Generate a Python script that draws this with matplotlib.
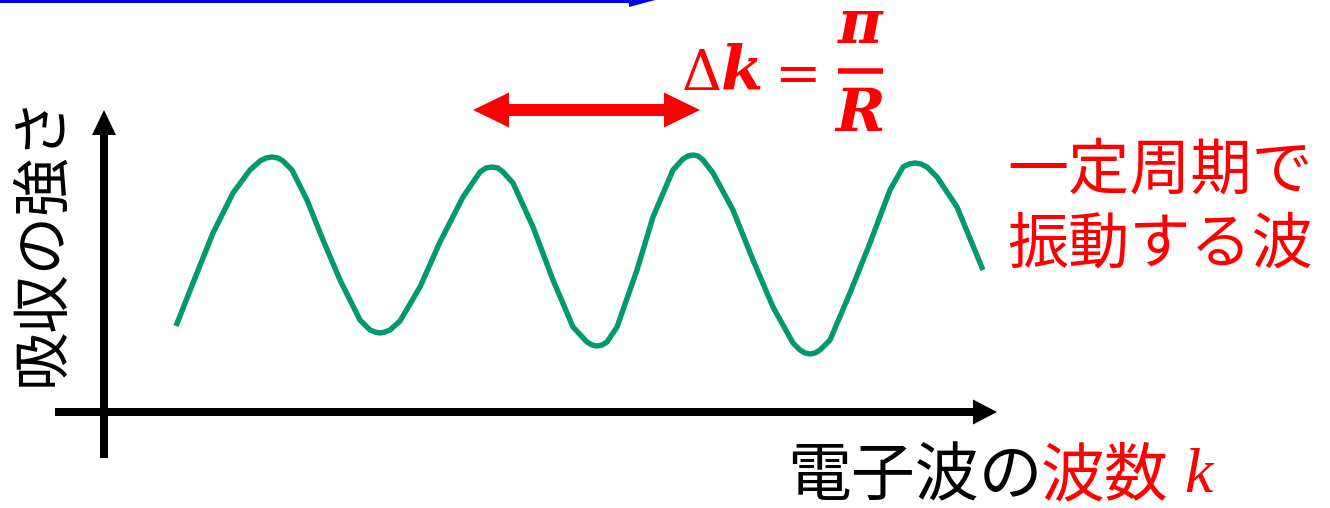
import matplotlib
matplotlib.use("Agg")
import matplotlib.pyplot as plt

plt.rcParams['font.family'] = ['Noto Sans CJK JP', 'DejaVu Sans']

# Wellenzahl k und Absorptionsstaerke
k_vals = [71, 88, 108, 128, 145, 155, 161, 167, 173, 178, 187, 202, 218, 235,
          255, 265, 270, 275, 280, 285, 295, 315, 335, 358, 375, 381, 387, 393,
          398, 408, 428, 448, 468, 482, 487, 492, 497, 502, 512, 532, 548, 568,
          578, 583, 588, 593, 598, 608, 628, 648, 668, 688, 695, 700, 705, 710,
          715, 725, 745, 765, 785, 798, 804, 810, 816, 822, 832, 852, 878]
absorb = [86, 129, 179, 219, 242, 251, 254, 255, 254, 251, 242, 212, 172, 132,
          92, 82, 80, 79, 80, 82, 91, 125, 170, 215, 240, 244, 245, 244,
          240, 229, 185, 132, 85, 70, 67, 66, 67, 70, 85, 142, 195, 242,
          253, 256, 257, 256, 252, 239, 202, 152, 105, 69, 62, 59, 58, 59,
          62, 72, 119, 169, 222, 245, 248, 249, 248, 245, 235, 205, 142]

ylabel = "吸収の強さ"
xlabel_black = "電子波の"
xlabel_red = "波数"
note_lines = ["一定周期で", "振動する波"]

wave_color = "#009A6E"
red = "#FF0000"

fig = plt.figure(figsize=(13.3, 5.08), dpi=100)
ax = fig.add_axes([0, 0, 1, 1])
ax.set_xlim(-105, 1225)
ax.set_ylim(-96, 412)
ax.set_axis_off()

# Achsen als Pfeile
ax.arrow(-50, 0, 942, 0, width=8, head_width=25, head_length=24,
         length_includes_head=True, fc="black", ec="none")
ax.arrow(-1, -46, 0, 348, width=8, head_width=24, head_length=25,
         length_includes_head=True, fc="black", ec="none")

# blauer Pfeil oben (abgeschnitten)
ax.arrow(-130, 413, 684, 0, width=8, head_width=16, head_length=30,
         length_includes_head=True, fc="#0000FF", ec="none")

# Welle
ax.plot(k_vals, absorb, color=wave_color, lw=3.9, solid_capstyle="butt",
        solid_joinstyle="round")

# roter Doppelpfeil (zwei Haelften, leicht ueberlappend)
ax.arrow(477, 302, 118, 0, width=12, head_width=35, head_length=36,
         length_includes_head=True, fc=red, ec="none")
ax.arrow(486, 302, -118, 0, width=12, head_width=35, head_length=36,
         length_includes_head=True, fc=red, ec="none")

# Delta k = pi / R
ax.text(577, 322, "Δ", color=red, fontsize=40,
        family="DejaVu Serif", ha="left", va="baseline")
ax.text(616, 322, "k", color=red, fontsize=44, fontweight="bold",
        style="italic", family="DejaVu Serif", ha="left", va="baseline")
ax.text(692, 335, "=", color=red, fontsize=40, family="DejaVu Serif",
        ha="center", va="center")
ax.plot([733, 778], [341, 341], color=red, lw=4, solid_capstyle="butt")
ax.text(755, 386, "π", color=red, fontsize=44, fontweight="bold",
        style="italic", family="DejaVu Serif", ha="center", va="center")
ax.text(755, 298, "R", color=red, fontsize=43, fontweight="bold",
        style="italic", family="DejaVu Serif", ha="center", va="center")

# Beschriftungen
ax.text(-63, 172, ylabel, fontsize=42, rotation=90, ha="center", va="center")
ax.text(682, -65, xlabel_black, fontsize=46, ha="left", va="center")
ax.text(936, -65, xlabel_red, fontsize=46, color=red, ha="left", va="center")
ax.text(1079, -65, "k", fontsize=46, color=red, style="italic",
        family="Liberation Serif", ha="left", va="center")

ax.text(1055, 241, note_lines[0], fontsize=44, color=red, ha="center", va="center")
ax.text(1055, 167, note_lines[1], fontsize=44, color=red, ha="center", va="center")

fig.savefig("out.png", dpi=100)
